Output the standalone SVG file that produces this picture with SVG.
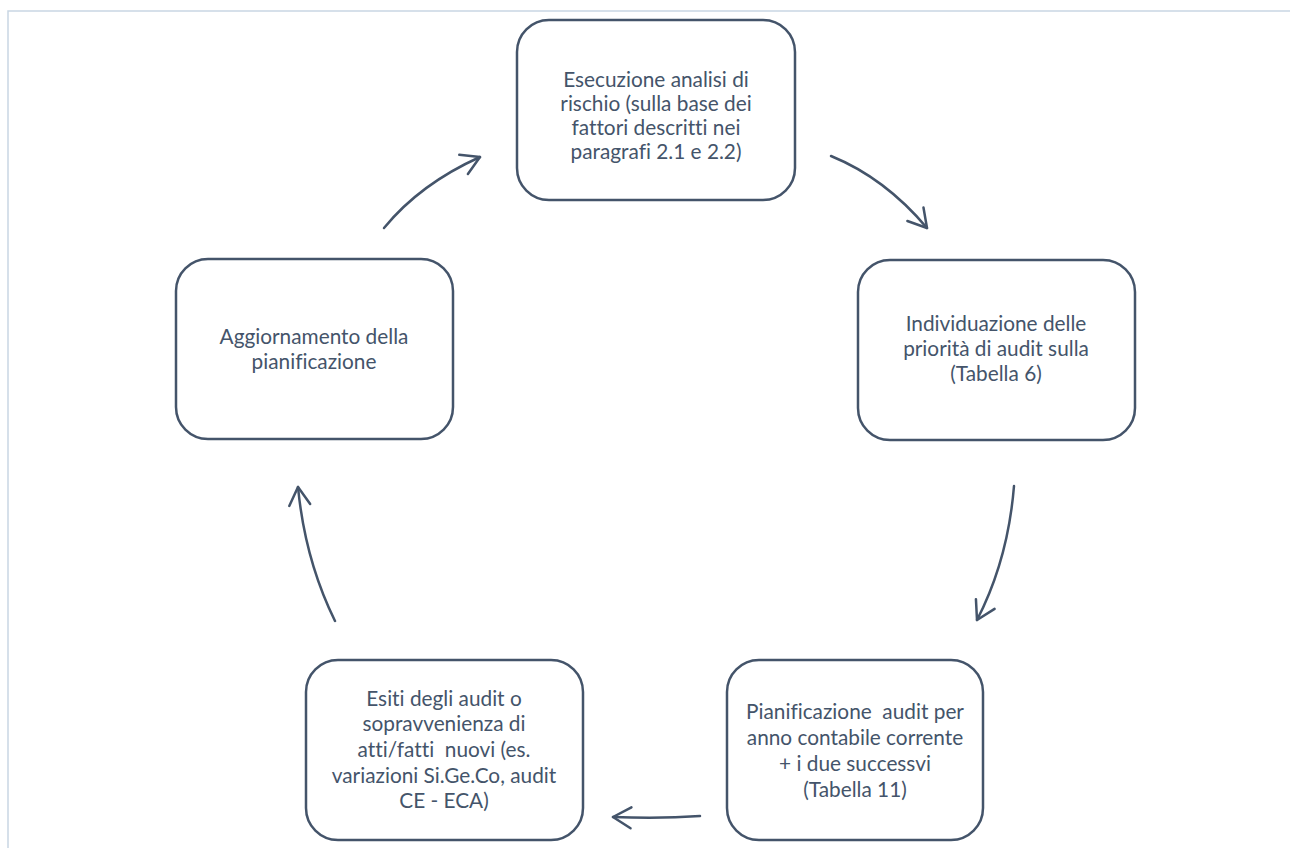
<svg xmlns="http://www.w3.org/2000/svg" width="1290" height="848" viewBox="0 0 1290 848">
<style>
.box{fill:#ffffff;stroke:#44546a;stroke-width:2.5}
.lbl{font-family:Lato,"Liberation Sans",sans-serif;font-size:20.8px;fill:#44546a;text-anchor:middle;font-variant-ligatures:none}
.conn{fill:none;stroke:#44546a;stroke-width:2.5;stroke-linecap:round;marker-end:url(#chev)}
</style>
<defs>
<marker id="chev" markerUnits="userSpaceOnUse" viewBox="-25 -15 30 30" refX="0" refY="0" markerWidth="30" markerHeight="30" orient="auto" overflow="visible">
<path d="M-18,-10.5 L0,0 L-18,10.5" fill="none" stroke="#44546a" stroke-width="2.5" stroke-linecap="round" stroke-linejoin="round"/>
</marker>
</defs>
<rect width="1290" height="848" fill="#ffffff"/>
<path d="M8,848 L8,11 L1290,11" fill="none" stroke="#c9d6e3" stroke-width="1.5"/>
<g id="connectors">
<path class="conn" d="M384,228 Q420,184 480,157"/>
<path class="conn" d="M831,156 Q885,178 927,228"/>
<path class="conn" d="M1014,486 Q1008,560 977,620"/>
<path class="conn" d="M700,816 Q660,819 613,817"/>
<path class="conn" d="M335,621 Q305,560 298,487"/>
</g>
<g id="node-esecuzione">
<rect class="box" x="517" y="20" width="278" height="180" rx="32"/>
<text class="lbl"><tspan x="656" y="87">Esecuzione analisi di</tspan><tspan x="656" y="111">rischio (sulla base dei</tspan><tspan x="656" y="135">fattori descritti nei</tspan><tspan x="656" y="159">paragrafi 2.1 e 2.2)</tspan></text>
</g>
<g id="node-individuazione">
<rect class="box" x="858" y="260" width="277" height="180" rx="32"/>
<text class="lbl"><tspan x="996" y="331">Individuazione delle</tspan><tspan x="996" y="356">priorità di audit sulla</tspan><tspan x="996" y="381">(Tabella 6)</tspan></text>
</g>
<g id="node-pianificazione">
<rect class="box" x="727" y="660" width="256" height="180" rx="32"/>
<text class="lbl" xml:space="preserve"><tspan x="855" y="719">Pianificazione  audit per</tspan><tspan x="855" y="745">anno contabile corrente</tspan><tspan x="855" y="771">+ i due successvi</tspan><tspan x="855" y="797">(Tabella 11)</tspan></text>
</g>
<g id="node-esiti">
<rect class="box" x="306" y="660" width="277" height="180" rx="32"/>
<text class="lbl" xml:space="preserve"><tspan x="444" y="706">Esiti degli audit o</tspan><tspan x="444" y="731">sopravvenienza di</tspan><tspan x="444" y="757">atti/fatti  nuovi (es.</tspan><tspan x="444" y="783">variazioni Si.Ge.Co, audit</tspan><tspan x="444" y="808">CE - ECA)</tspan></text>
</g>
<g id="node-aggiornamento">
<rect class="box" x="176" y="259" width="277" height="180" rx="32"/>
<text class="lbl"><tspan x="314" y="344">Aggiornamento della</tspan><tspan x="314" y="369">pianificazione</tspan></text>
</g>
</svg>
